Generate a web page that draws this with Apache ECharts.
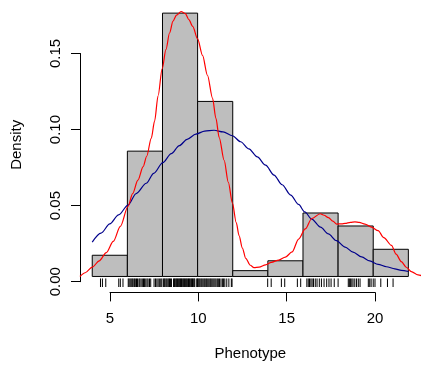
<!DOCTYPE html>
<html>
<head>
<meta charset="utf-8">
<script src="https://cdn.jsdelivr.net/npm/echarts@6/dist/echarts.min.js"></script>
<style>html,body{margin:0;padding:0;background:#fff}#c{width:421px;height:366px}</style>
</head>
<body>
<div id="c"></div>
<script>
// ---- data ----
const breaks = [4, 6, 8, 10, 12, 14, 16, 18, 20, 22];
const density = [0.0142, 0.0839, 0.1763, 0.1172, 0.0039, 0.0105, 0.0425, 0.0338, 0.0182];

const xTicks = [5, 10, 15, 20];
const yTicks = [0.00, 0.05, 0.10, 0.15];

// kernel density estimate (red)
const kdeX = [3.30, 3.60, 4.00, 4.40, 4.80, 5.20, 5.60, 6.04, 6.30, 6.60, 6.90, 7.10, 7.36, 7.55, 7.75, 7.98, 8.20, 8.40, 8.60, 8.80, 9.06, 9.30, 9.50, 9.72, 10.00, 10.28, 10.56, 10.85, 11.04, 11.23, 11.51, 11.75, 11.98, 12.20, 12.36, 12.55, 12.74, 13.00, 13.21, 13.50, 13.87, 14.20, 14.62, 15.00, 15.38, 15.75, 16.13, 16.50, 16.98, 17.20, 17.45, 17.70, 17.92, 18.20, 18.40, 18.70, 18.96, 19.20, 19.53, 19.90, 20.28, 20.60, 21.04, 21.30, 21.60, 21.90, 22.17, 22.55, 22.80];
const kdeY = [0.0000, 0.0025, 0.0062, 0.0105, 0.0160, 0.0235, 0.0335, 0.0470, 0.0555, 0.0645, 0.0735, 0.0805, 0.0925, 0.1040, 0.1210, 0.1390, 0.1520, 0.1630, 0.1710, 0.1750, 0.1774, 0.1760, 0.1720, 0.1675, 0.1590, 0.1480, 0.1347, 0.1194, 0.1060, 0.0930, 0.0778, 0.0630, 0.0493, 0.0360, 0.0274, 0.0190, 0.0121, 0.0075, 0.0059, 0.0062, 0.0077, 0.0095, 0.0110, 0.0130, 0.0164, 0.0250, 0.0318, 0.0388, 0.0420, 0.0410, 0.0394, 0.0370, 0.0351, 0.0352, 0.0355, 0.0362, 0.0366, 0.0362, 0.0351, 0.0330, 0.0307, 0.0260, 0.0208, 0.0150, 0.0099, 0.0060, 0.0033, 0.0011, 0.0003];

// fitted normal density (blue)
const normX = [4.00, 4.50, 5.00, 5.50, 6.04, 6.50, 7.08, 7.50, 8.02, 8.50, 8.96, 9.40, 9.90, 10.40, 10.94, 11.45, 11.98, 12.45, 12.92, 13.40, 13.87, 14.35, 14.81, 15.30, 15.75, 16.10, 16.50, 17.00, 17.45, 17.90, 18.40, 18.85, 19.34, 19.80, 20.28, 20.75, 21.23, 21.60, 22.00];
const normY = [0.0230, 0.0290, 0.0352, 0.0412, 0.0478, 0.0555, 0.0624, 0.0690, 0.0762, 0.0822, 0.0876, 0.0918, 0.0953, 0.0973, 0.0979, 0.0968, 0.0942, 0.0902, 0.0854, 0.0800, 0.0745, 0.0679, 0.0614, 0.0545, 0.0482, 0.0432, 0.0384, 0.0330, 0.0285, 0.0240, 0.0197, 0.0163, 0.0131, 0.0104, 0.0081, 0.0065, 0.0051, 0.0041, 0.0033];

// individual observations (rug)
const rug = [4.47, 4.58, 4.77, 5.51, 5.60, 5.75,
  6.05, 6.10, 6.16, 6.22, 6.28, 6.33, 6.40, 6.45, 6.52, 6.58, 6.66, 6.71, 6.78, 6.85, 6.92, 6.98, 7.05, 7.12, 7.18, 7.26, 7.33, 7.52, 7.60, 7.68, 7.75, 7.82, 7.90, 7.96,
  8.05, 8.10, 8.14, 8.20, 8.25, 8.31, 8.36, 8.40, 8.46, 8.51, 8.63, 8.68, 8.72, 8.77, 8.81, 8.86, 8.90, 8.95, 8.99, 9.03, 9.08, 9.12, 9.17, 9.21, 9.26, 9.30, 9.35, 9.39, 9.44, 9.48, 9.53, 9.57, 9.62, 9.66, 9.71, 9.75, 9.80, 9.84, 9.95, 9.99,
  10.03, 10.08, 10.13, 10.19, 10.24, 10.30, 10.36, 10.41, 10.47, 10.52, 10.58, 10.64, 10.70, 10.75, 10.81, 10.87, 10.93, 10.99, 11.05, 11.12, 11.18, 11.25, 11.33, 11.41, 11.48, 11.55, 11.66, 11.78, 11.92, 11.96,
  13.99, 14.19, 14.77, 14.96, 15.68, 15.87,
  16.22, 16.30, 16.37, 16.45, 16.52, 16.60, 16.70, 16.80, 16.93, 17.05, 17.20, 17.35, 17.48, 17.60, 17.78, 18.00,
  18.58, 18.64, 18.70, 18.78, 18.85, 18.95, 19.05, 19.15, 19.25, 19.72, 19.80, 19.88, 20.00,
  20.10, 20.43, 20.81, 21.13];

// ---- chart ----
const X0 = 3.28, X1 = 22.72;          // plot region (4% extension of 4..22)
const Y1 = 0.1763 * 1.04, Y0 = -0.1763 * 0.04;
const FONT = '"Liberation Sans", Arial, Helvetica, sans-serif';
const chart = echarts.init(document.getElementById('c'), null, {renderer: 'canvas'});

const hidden = {show: false};
const option = {
  animation: false,
  backgroundColor: '#ffffff',
  textStyle: {fontFamily: FONT, color: '#000'},
  grid: [
    {left: 79.6, top: 2.6, width: 343.4, height: 289.8},   // plot region
    {left: 110, top: 100, width: 265, height: 192.4},      // x axis display
    {left: 80, top: 53.46, width: 100, height: 228.24}     // y axis display
  ],
  xAxis: [
    {gridIndex: 0, type: 'value', min: X0, max: X1, axisLine: hidden, axisTick: hidden, axisLabel: hidden, splitLine: hidden,
     name: 'Phenotype', nameLocation: 'middle', nameGap: 59,
     nameTextStyle: {fontFamily: FONT, fontSize: 15, color: '#000'}},
    {gridIndex: 1, type: 'value', min: xTicks[0], max: xTicks[xTicks.length - 1], interval: 5,
     axisLine: {show: true, lineStyle: {color: '#000', width: 1}},
     axisTick: {show: true, length: 9, lineStyle: {color: '#000', width: 1}},
     axisLabel: {show: true, margin: 19, fontFamily: FONT, fontSize: 15, color: '#000'},
     splitLine: hidden},
    {gridIndex: 2, type: 'value', show: false}
  ],
  yAxis: [
    {gridIndex: 0, type: 'value', min: Y0, max: Y1, axisLine: hidden, axisTick: hidden, axisLabel: hidden, splitLine: hidden,
     name: 'Density', nameLocation: 'middle', nameGap: 55,
     nameTextStyle: {fontFamily: FONT, fontSize: 15, color: '#000'}},
    {gridIndex: 1, type: 'value', show: false},
    {gridIndex: 2, type: 'value', min: yTicks[0], max: yTicks[yTicks.length - 1], interval: 0.05,
     axisLine: {show: true, lineStyle: {color: '#000', width: 1}},
     axisTick: {show: true, length: 9, lineStyle: {color: '#000', width: 1}},
     axisLabel: {show: true, rotate: 90, margin: 17, fontFamily: FONT, fontSize: 15, color: '#000',
       formatter: v => v.toFixed(2)},
     splitLine: hidden}
  ],
  series: [
    {
      type: 'custom', xAxisIndex: 0, yAxisIndex: 0, clip: true,
      data: density.map((d, i) => [breaks[i], breaks[i + 1], d]),
      encode: {x: [0, 1], y: 2},
      renderItem: (params, api) => {
        const p0 = api.coord([api.value(0), 0]);
        const p1 = api.coord([api.value(1), api.value(2)]);
        return {type: 'rect', shape: {x: p0[0], y: p1[1], width: p1[0] - p0[0], height: p0[1] - p1[1]},
          style: {fill: '#BEBEBE', stroke: '#000', lineWidth: 1}};
      }
    },
    {
      type: 'custom', xAxisIndex: 0, yAxisIndex: 0, clip: true,
      data: rug.map(v => [v]),
      encode: {x: 0},
      renderItem: (params, api) => {
        const a = api.coord([api.value(0), Y0]);
        const b = api.coord([api.value(0), Y0 + 0.03 * (Y1 - Y0)]);
        return {type: 'line', shape: {x1: a[0], y1: a[1], x2: b[0], y2: b[1]},
          style: {stroke: '#000', lineWidth: 1}};
      }
    },
    {
      type: 'line', xAxisIndex: 0, yAxisIndex: 0, showSymbol: false, smooth: 0.3, smoothMonotone: 'x',
      data: normX.map((x, i) => [x, normY[i]]),
      lineStyle: {color: '#00008B', width: 1.2}
    },
    {
      type: 'line', xAxisIndex: 0, yAxisIndex: 0, showSymbol: false, smooth: 0.3, smoothMonotone: 'x',
      data: kdeX.map((x, i) => [x, kdeY[i]]),
      lineStyle: {color: '#FF0000', width: 1.2}
    }
  ]
};
chart.setOption(option);
</script>
</body>
</html>
